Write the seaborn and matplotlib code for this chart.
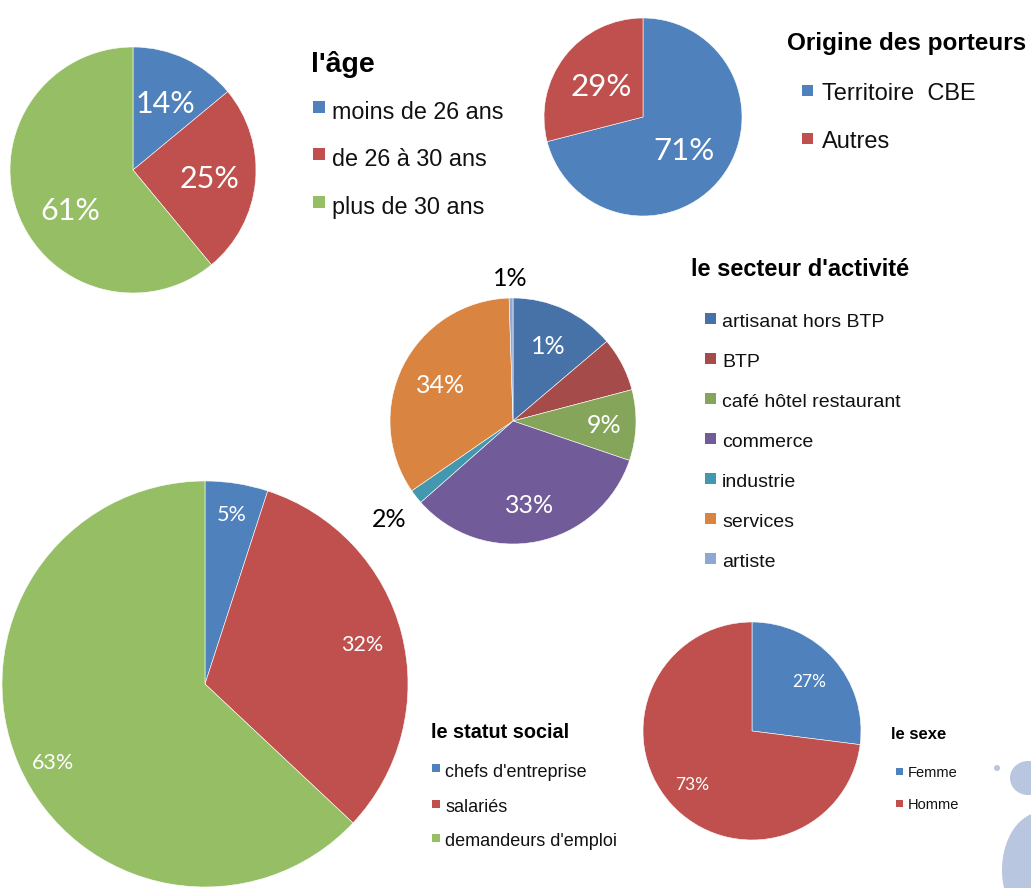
import numpy as np
import matplotlib
matplotlib.use("Agg")
import matplotlib.pyplot as plt
from matplotlib.patches import Rectangle, Ellipse
import seaborn as sns

# ---- data ----
age_labels = ["moins de 26 ans", "de 26 à 30 ans", "plus de 30 ans"]
age_values = [14, 25, 61]

origine_labels = ["Territoire  CBE", "Autres"]
origine_values = [71, 29]

secteur_labels = ["artisanat hors BTP", "BTP", "café hôtel restaurant", "commerce",
                  "industrie", "services", "artiste"]
secteur_values = [13.8, 7.1, 9.3, 33.3, 1.9, 34.1, 0.5]
# labels as printed on the original chart
secteur_text = ["1%", "", "9%", "33%", "2%", "34%", "1%"]

statut_labels = ["chefs d'entreprise", "salariés", "demandeurs d'emploi"]
statut_values = [5, 32, 63]

sexe_labels = ["Femme", "Homme"]
sexe_values = [27, 73]

# ---- colours ----
office = ["#4F81BD", "#C0504D", "#95BE65"]
secteur_colors = ["#4672A8", "#A54B4A", "#85A55A", "#715B98", "#4398AF", "#DA8442", "#8FA8D1"]

W, H = 1031, 888
sns.set_theme(style="white")
LEG_FONT = "Liberation Sans"
PCT_FONT = "Lato"

fig = plt.figure(figsize=(W / 100, H / 100), dpi=100)
ax = fig.add_axes([0, 0, 1, 1])
ax.set_xlim(0, W)
ax.set_ylim(0, H)
ax.set_aspect("equal")
ax.axis("off")


def fy(y):
    # pixel row (from top) -> data y
    return H - y


def draw_pie(values, colors, cx, cy, r, texts, dists, size, tcolors, shifts=None):
    wedges, _ = ax.pie(values, colors=colors, startangle=90, counterclock=False,
                       center=(cx, fy(cy)), radius=r, normalize=True,
                       wedgeprops=dict(edgecolor="white", linewidth=0.4))
    if shifts is None:
        shifts = [0] * len(values)
    half_cap = 0.36 * size * 100 / 72
    for w, t, d, c, s in zip(wedges, texts, dists, tcolors, shifts):
        if not t:
            continue
        mid = np.deg2rad((w.theta1 + w.theta2) / 2 + s)
        ax.text(cx + d * r * np.cos(mid), fy(cy) + d * r * np.sin(mid) - half_cap, t,
                ha="center", va="baseline", fontsize=size, color=c, family=PCT_FONT)
    return wedges


def draw_legend(title, tx, tbase, tsize, labels, colors, mx, lx, bases, lsize, msize, moff):
    ax.text(tx, fy(tbase), title, fontsize=tsize, fontweight="bold", family=LEG_FONT,
            ha="left", va="baseline", color="black")
    for lab, col, b in zip(labels, colors, bases):
        ax.add_patch(Rectangle((mx, fy(b - moff) - msize / 2), msize, msize,
                               facecolor=col, edgecolor="none"))
        ax.text(lx, fy(b), lab, fontsize=lsize, family=LEG_FONT, ha="left",
                va="baseline", color="#111111")


# l'âge
draw_pie(age_values, office, 133, 170, 123,
         [f"{v}%" for v in age_values], [0.61, 0.625, 0.6], 22, ["white"] * 3,
         shifts=[0, 0, 12])
draw_legend("l'âge", 311, 72, 20.5, age_labels, office, 313, 332,
            [119, 166, 214], 16.8, 12, 11.5)

# Origine des porteurs
draw_pie(origine_values, office[:2], 643, 117, 99,
         [f"{v}%" for v in origine_values], [0.53, 0.53], 22.5, ["white"] * 2)
draw_legend("Origine des porteurs", 787, 50, 17.5, origine_labels, office[:2], 802, 822,
            [100, 148], 17, 11, 9.5)

# le secteur d'activité
draw_pie(secteur_values, secteur_colors, 513, 421, 123, secteur_text,
         [0.68, 0.7, 0.74, 0.69, 1.28, 0.66, 1.17], 18,
         ["white", "white", "white", "white", "black", "white", "black"])
draw_legend("le secteur d'activité", 691, 276, 17, secteur_labels, secteur_colors, 705, 722,
            [327, 367, 407, 447, 487, 527, 567], 14, 10.5, 8.5)

# le statut social
draw_pie(statut_values, office, 205, 684, 203,
         [f"{v}%" for v in statut_values], [0.85, 0.8, 0.84], 15.5, ["white"] * 3,
         shifts=[0, 0, 3.5])
draw_legend("le statut social", 431, 738, 14.3, statut_labels, office, 432, 445,
            [777, 812, 846], 13, 8, 8.5)

# le sexe
draw_pie(sexe_values, office[:2], 752, 731, 109,
         [f"{v}%" for v in sexe_values], [0.7, 0.73], 12.5, ["white"] * 2)
draw_legend("le sexe", 891, 739, 12, sexe_labels, office[:2], 896, 908,
            [777, 809], 10.5, 6.5, 5.5)

# background decoration (bottom right corner)
deco = "#B8C6DF"
ax.add_patch(Ellipse((1028, fy(778)), 36, 34, facecolor=deco, edgecolor="none"))
ax.add_patch(Ellipse((997, fy(768)), 6, 6, facecolor=deco, edgecolor="none"))
ax.add_patch(Ellipse((1042, fy(870)), 80, 116, facecolor=deco, edgecolor="none"))

ax.set_xlim(0, W)
ax.set_ylim(0, H)
fig.savefig("out.png", dpi=100, facecolor="white")
